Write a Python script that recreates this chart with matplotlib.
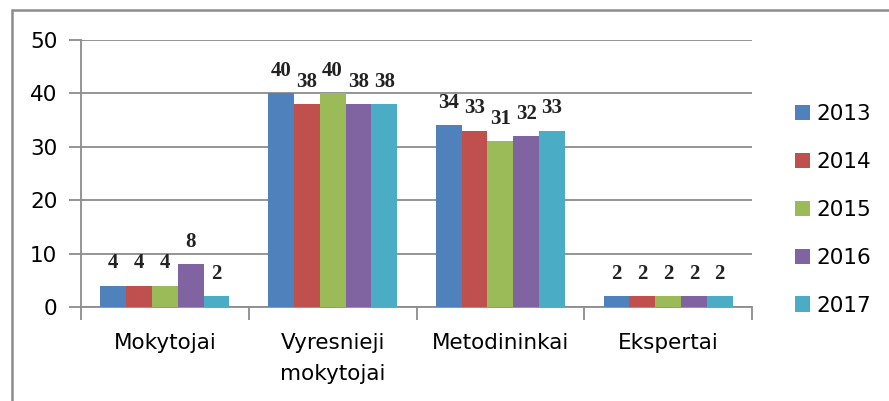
import matplotlib.pyplot as plt
import numpy as np
from matplotlib.patches import Rectangle

# Data
categories = ['Mokytojai', 'Vyresnieji\nmokytojai', 'Metodininkai', 'Ekspertai']
years = ['2013', '2014', '2015', '2016', '2017']
values = {
    '2013': [4, 40, 34, 2],
    '2014': [4, 38, 33, 2],
    '2015': [4, 40, 31, 2],
    '2016': [8, 38, 32, 2],
    '2017': [2, 38, 33, 2],
}
colors = ['#4F81BD', '#C0504D', '#9BBB59', '#8064A2', '#4BACC6']

fig = plt.figure(figsize=(8.89, 4.01), dpi=100)
ax = fig.add_axes([81 / 889, 1 - 307 / 401, (752 - 81) / 889, (307 - 40) / 401])

# outer chart border (goes off the right and bottom edges)
fig.patches.append(Rectangle((12 / 889, -0.1), 1.2, 1 - 10 / 401 + 0.1,
                             transform=fig.transFigure, fill=False,
                             edgecolor='#8c8c8c', linewidth=1.8))

x = np.arange(len(categories))
n = len(years)
width = 0.77 / n
for i, yr in enumerate(years):
    pos = x - 0.385 + width * (i + 0.5)
    bars = ax.bar(pos, values[yr], width, color=colors[i], label=yr, zorder=3)
    for b, v in zip(bars, values[yr]):
        ax.annotate(str(v), (b.get_x() + b.get_width() / 2, v),
                    xytext=(0, 9), textcoords='offset points',
                    ha='center', va='bottom', fontsize=15,
                    family='Liberation Serif', fontweight='bold', color='#222222')

ax.set_xlim(-0.5, len(categories) - 0.5)
ax.set_ylim(0, 50)
ax.set_yticks(range(0, 51, 10))
ax.yaxis.grid(True, color='#8c8c8c', linewidth=1.3, zorder=0)
ax.tick_params(axis='y', length=9, width=1.3, color='#8c8c8c', labelsize=15.5, pad=8)

# category boundaries as major ticks, labels at centres as minor ticks
ax.set_xticks(np.arange(-0.5, len(categories), 1.0))
ax.set_xticklabels([])
ax.set_xticks(x, minor=True)
ax.set_xticklabels(categories, minor=True, fontsize=15.5, linespacing=1.65)
ax.tick_params(axis='x', which='minor', length=0, pad=19)
ax.tick_params(axis='x', which='major', length=9, width=1.3, color='#8c8c8c')

for s in ['top', 'right']:
    ax.spines[s].set_visible(False)
for s in ['left', 'bottom']:
    ax.spines[s].set_color('#8c8c8c')
    ax.spines[s].set_linewidth(1.3)

leg = fig.legend(loc='upper left', bbox_to_anchor=(786 / 889, 1 - 95 / 401),
                 frameon=False, fontsize=15.5, handlelength=0.7, handleheight=0.7,
                 handletextpad=0.3, labelspacing=1.3, borderaxespad=0)

fig.savefig('out.png', dpi=100)
